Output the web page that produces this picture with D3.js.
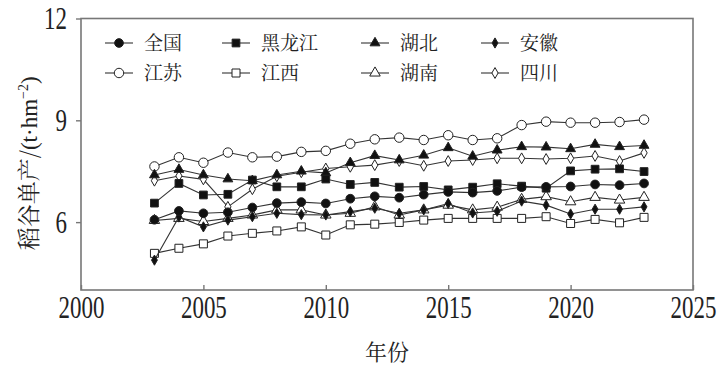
<!DOCTYPE html>
<html>
<head>
<meta charset="utf-8">
<script src="https://cdn.jsdelivr.net/npm/d3@7"></script>
<style>
  body { margin: 0; background: #fff; }
  svg text { fill: #222; }
</style>
</head>
<body>
<svg id="chart" width="719" height="373"></svg>
<script>
// 年份与各地区稻谷单产 (t/hm2)
const years = d3.range(2003, 2024);
const names = ["全国", "黑龙江", "湖北", "安徽", "江苏", "江西", "湖南", "四川"];
const quanguo  = [6.07, 6.33, 6.26, 6.29, 6.43, 6.56, 6.59, 6.55, 6.69, 6.76, 6.72, 6.81, 6.89, 6.87, 6.92, 7.03, 7.04, 7.05, 7.11, 7.09, 7.14];
const heilongjiang = [6.56, 7.14, 6.80, 6.82, 7.24, 7.04, 7.04, 7.27, 7.11, 7.17, 7.03, 7.05, 6.95, 7.03, 7.13, 7.06, 7.00, 7.51, 7.56, 7.57, 7.49];
const hubei    = [7.39, 7.55, 7.39, 7.27, 7.22, 7.39, 7.50, 7.45, 7.75, 7.96, 7.83, 7.97, 8.19, 7.94, 8.12, 8.22, 8.21, 8.16, 8.29, 8.22, 8.26];
const anhui    = [4.88, 6.15, 5.86, 6.06, 6.16, 6.26, 6.22, 6.21, 6.31, 6.41, 6.26, 6.36, 6.55, 6.27, 6.32, 6.62, 6.50, 6.24, 6.38, 6.38, 6.45];
const jiangsu  = [7.64, 7.91, 7.75, 8.05, 7.91, 7.93, 8.07, 8.10, 8.31, 8.44, 8.49, 8.42, 8.56, 8.42, 8.47, 8.86, 8.96, 8.93, 8.93, 8.95, 9.02];
const jiangxi  = [5.08, 5.23, 5.36, 5.59, 5.67, 5.74, 5.86, 5.62, 5.92, 5.94, 5.99, 6.06, 6.11, 6.11, 6.11, 6.11, 6.16, 5.96, 6.08, 5.98, 6.14];
const hunan    = [6.05, 6.11, 6.02, 6.11, 6.21, 6.36, 6.36, 6.21, 6.26, 6.45, 6.21, 6.36, 6.50, 6.36, 6.44, 6.67, 6.75, 6.60, 6.73, 6.65, 6.73];
const sichuan  = [7.22, 7.36, 7.26, 6.45, 6.97, 7.35, 7.47, 7.58, 7.63, 7.68, 7.80, 7.66, 7.80, 7.83, 7.88, 7.88, 7.86, 7.88, 7.95, 7.80, 8.04];
const xTicks = [2000, 2005, 2010, 2015, 2020, 2025];
const yTicks = [6, 9, 12];

const seriesValues = [quanguo, heilongjiang, hubei, anhui, jiangsu, jiangxi, hunan, sichuan];
// 标记：形状与是否实心
const symbolTypes = [d3.symbolCircle, d3.symbolSquare, d3.symbolTriangle, d3.symbolDiamond,
                     d3.symbolCircle, d3.symbolSquare, d3.symbolTriangle, d3.symbolDiamond];
const symbolSizes = [60, 60, 42, 30, 70, 64, 48, 34];
const filled = [true, true, true, true, false, false, false, false];

const serif = '"Liberation Serif", "Times New Roman", serif';
const song = '"Noto Serif CJK SC", "Noto Sans CJK SC", serif';

const svg = d3.select("#chart");
const margin = { top: 18.5, right: 26, bottom: 83, left: 81 };
const width = 719, height = 373;
const innerWidth = width - margin.left - margin.right;
const innerHeight = height - margin.top - margin.bottom;

const x = d3.scaleLinear().domain([2000, 2025]).range([0, innerWidth]);
const y = d3.scaleLinear().domain([4, 12]).range([innerHeight, 0]);

const g = svg.append("g")
    .attr("transform", `translate(${margin.left},${margin.top})`);

// 边框
g.append("rect")
    .attr("width", innerWidth)
    .attr("height", innerHeight)
    .attr("fill", "none")
    .attr("stroke", "#777")
    .attr("stroke-width", 1.6);

// x轴（刻度朝内）
const xAxis = g.append("g")
    .attr("transform", `translate(0,${innerHeight})`)
    .call(d3.axisBottom(x).tickValues(xTicks).tickFormat(d3.format("d")).tickSize(-5).tickPadding(6));
xAxis.select(".domain").remove();
xAxis.selectAll(".tick line").attr("stroke", "#777").attr("stroke-width", 1.4);
xAxis.selectAll("text")
    .style("font-family", serif).style("font-size", "31px").attr("fill", "#222")
    .attr("transform", "scale(0.74,1)");

// y轴
const yAxis = g.append("g")
    .call(d3.axisLeft(y).tickValues(yTicks).tickSize(5).tickPadding(14));
yAxis.select(".domain").remove();
yAxis.selectAll(".tick line").attr("stroke", "#777").attr("stroke-width", 1.4);
yAxis.selectAll("text")
    .style("font-family", serif).style("font-size", "31px").attr("fill", "#222")
    .attr("transform", "scale(0.74,1)");

// 坐标轴标签
g.append("text")
    .attr("x", innerWidth / 2)
    .attr("y", innerHeight + 70)
    .attr("text-anchor", "middle")
    .style("font-family", song)
    .style("font-size", "22px")
    .text("年份");

const yLabel = g.append("text")
    .attr("transform", `translate(-44,${innerHeight / 2 + 9}) rotate(-90)`)
    .attr("text-anchor", "middle")
    .style("font-size", "23px");
yLabel.append("tspan").style("font-family", song).text("稻谷单产/");
yLabel.append("tspan").style("font-family", serif).text("(t·hm");
yLabel.append("tspan").attr("dy", -9).style("font-family", serif).style("font-size", "14px").text("−2");
yLabel.append("tspan").attr("dy", 9).style("font-family", serif).text(")");

// 折线
const line = d3.line()
    .x((d, i) => x(years[i]))
    .y(d => y(d));

const order = [7, 6, 5, 4, 3, 2, 1, 0];
order.forEach(k => {
    const s = g.append("g");
    s.append("path")
        .datum(seriesValues[k])
        .attr("d", line)
        .attr("fill", "none")
        .attr("stroke", "#333")
        .attr("stroke-width", 1.1);
    s.selectAll("path.pt")
        .data(seriesValues[k])
        .enter()
        .append("path")
        .attr("class", "pt")
        .attr("transform", (d, i) => `translate(${x(years[i])},${y(d)})`)
        .attr("d", d3.symbol().type(symbolTypes[k]).size(symbolSizes[k]))
        .attr("fill", filled[k] ? "#111" : "#fff")
        .attr("stroke", "#222")
        .attr("stroke-width", 1);
});

// 图例
const legendCols = [38, 155, 294, 414];
const legendRows = [24.5, 54.5];
const legend = g.append("g");
names.forEach((name, k) => {
    const cx = legendCols[k % 4];
    const cy = legendRows[Math.floor(k / 4)];
    const item = legend.append("g").attr("transform", `translate(${cx},${cy})`);
    item.append("line")
        .attr("x1", -14).attr("x2", 14)
        .attr("stroke", "#333").attr("stroke-width", 1.1);
    item.append("path")
        .attr("d", d3.symbol().type(symbolTypes[k]).size(symbolSizes[k]))
        .attr("fill", filled[k] ? "#111" : "#fff")
        .attr("stroke", "#222")
        .attr("stroke-width", 1);
    item.append("text")
        .attr("x", 25)
        .attr("dy", "0.36em")
        .style("font-family", song)
        .style("font-size", "19px")
        .text(name);
});
</script>
</body>
</html>
